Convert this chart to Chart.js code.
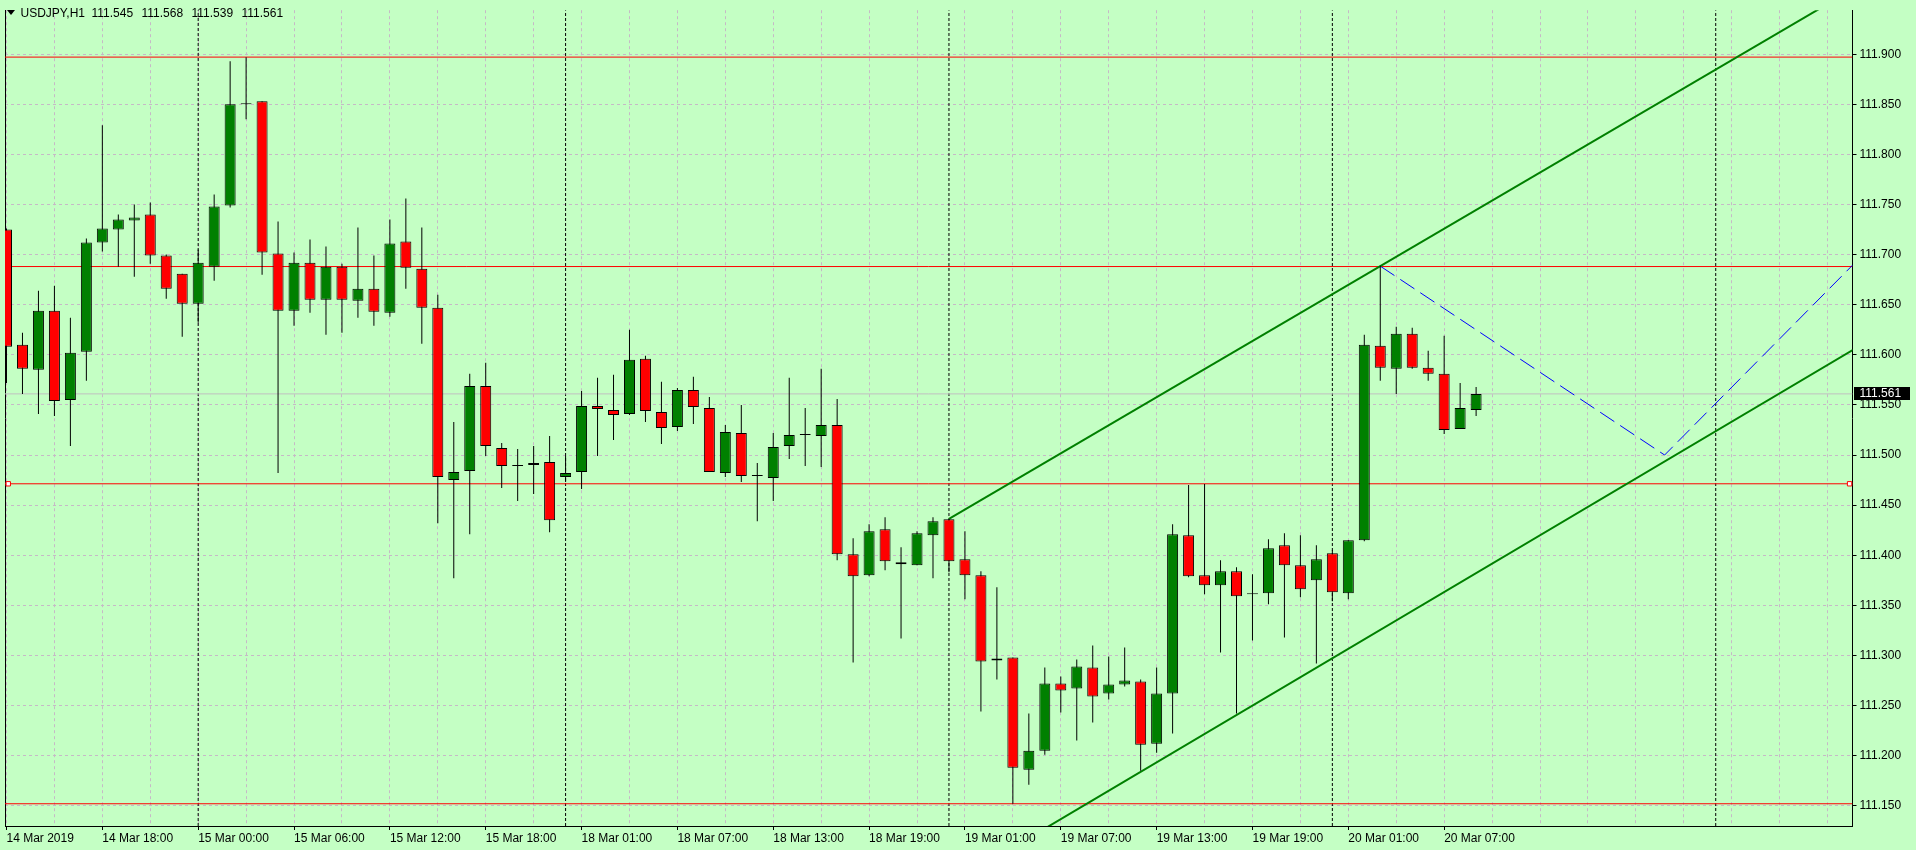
<!DOCTYPE html>
<html><head><meta charset="utf-8">
<script src="https://cdn.jsdelivr.net/npm/chart.js@4.4.0/dist/chart.umd.min.js"></script>
<style>
html,body{margin:0;padding:0;background:#c4ffc4;overflow:hidden;}
#wrap{position:relative;width:1916px;height:850px;background:#c4ffc4;}
#c{position:absolute;left:0;top:0;}
#hdr{position:absolute;left:0;top:0;width:400px;height:24px;font:12px "Liberation Sans",Arial,sans-serif;color:#000;}
#hdr span{position:absolute;top:6px;line-height:14px;white-space:pre;}
#tri{position:absolute;left:7px;top:10px;width:0;height:0;border-left:4px solid transparent;border-right:4px solid transparent;border-top:5px solid #000;}
</style></head><body>
<div id="wrap"><canvas id="c" width="1916" height="850"></canvas><div id="hdr"><div id="tri"></div></div></div>
<script>
// ---- data (USDJPY, H1) ----
const symbolName = 'USDJPY,H1';
const openP  = [111.725,111.610,111.585,111.644,111.555,111.603,111.712,111.725,111.734,111.740,
                111.699,111.681,111.651,111.688,111.749,111.850,111.853,111.701,111.644,111.692,
                111.655,111.688,111.654,111.666,111.642,111.713,111.686,111.647,111.475,111.484,
                111.569,111.507,111.490,111.490,111.493,111.478,111.483,111.549,111.545,111.541,
                111.596,111.543,111.528,111.565,111.547,111.482,111.522,111.479,111.477,111.509,
                111.520,111.519,111.530,111.401,111.380,111.426,111.393,111.390,111.420,111.436,
                111.396,111.380,111.295,111.298,111.186,111.205,111.272,111.267,111.288,111.262,
                111.271,111.274,111.212,111.262,111.420,111.380,111.370,111.384,111.361,111.362,
                111.410,111.390,111.375,111.402,111.362,111.415,111.609,111.586,111.621,111.587,
                111.581,111.526,111.545];
const highP  = [111.726,111.622,111.664,111.669,111.637,111.716,111.829,111.740,111.750,111.752,
                111.700,111.681,111.705,111.760,111.893,111.897,111.853,111.733,111.702,111.715,
                111.708,111.691,111.727,111.699,111.735,111.756,111.727,111.660,111.533,111.581,
                111.592,111.512,111.506,111.509,111.519,111.499,111.564,111.577,111.580,111.625,
                111.599,111.573,111.567,111.578,111.558,111.530,111.550,111.492,111.522,111.577,
                111.547,111.586,111.556,111.417,111.431,111.438,111.408,111.424,111.438,111.436,
                111.424,111.384,111.368,111.298,111.242,111.288,111.279,111.296,111.310,111.299,
                111.308,111.276,111.288,111.431,111.470,111.471,111.395,111.388,111.381,111.416,
                111.422,111.420,111.410,111.405,111.415,111.620,111.689,111.628,111.627,111.604,
                111.619,111.572,111.568];
const lowP   = [111.572,111.561,111.541,111.539,111.509,111.574,111.703,111.688,111.678,111.691,
                111.656,111.618,111.632,111.674,111.747,111.835,111.680,111.482,111.629,111.642,
                111.620,111.622,111.637,111.629,111.638,111.666,111.611,111.432,111.377,111.421,
                111.499,111.467,111.454,111.461,111.423,111.473,111.466,111.499,111.515,111.540,
                111.533,111.511,111.524,111.531,111.483,111.478,111.473,111.434,111.454,111.496,
                111.489,111.488,111.395,111.293,111.379,111.385,111.317,111.390,111.377,111.383,
                111.356,111.244,111.276,111.152,111.171,111.201,111.243,111.215,111.233,111.256,
                111.269,111.185,111.203,111.222,111.378,111.361,111.303,111.242,111.315,111.351,
                111.318,111.358,111.292,111.354,111.356,111.414,111.574,111.561,111.586,111.574,
                111.521,111.526,111.539];
const closeP = [111.608,111.586,111.644,111.554,111.602,111.712,111.726,111.735,111.737,111.699,
                111.666,111.651,111.692,111.748,111.850,111.850,111.702,111.644,111.692,111.655,
                111.688,111.655,111.666,111.643,111.711,111.687,111.647,111.478,111.483,111.569,
                111.509,111.489,111.489,111.492,111.435,111.482,111.549,111.546,111.540,111.595,
                111.544,111.527,111.565,111.548,111.483,111.523,111.479,111.479,111.508,111.520,
                111.520,111.530,111.401,111.379,111.424,111.394,111.391,111.422,111.434,111.394,
                111.380,111.294,111.297,111.188,111.205,111.272,111.265,111.289,111.259,111.271,
                111.275,111.211,111.262,111.421,111.379,111.370,111.384,111.359,111.361,111.407,
                111.390,111.366,111.396,111.363,111.415,111.610,111.587,111.621,111.587,111.581,
                111.525,111.547,111.561];
const timeLabels = ['14 Mar 2019','14 Mar 18:00','15 Mar 00:00','15 Mar 06:00','15 Mar 12:00','15 Mar 18:00',
                    '18 Mar 01:00','18 Mar 07:00','18 Mar 13:00','18 Mar 19:00','19 Mar 01:00','19 Mar 07:00',
                    '19 Mar 13:00','19 Mar 19:00','20 Mar 01:00','20 Mar 07:00'];
const priceTicks = [111.15,111.20,111.25,111.30,111.35,111.40,111.45,111.50,111.55,111.60,111.65,111.70,111.75,111.80,111.85,111.90];
const daySeparators = [12, 35, 59, 83, 107];          // bar index of each day start
const horizontalLevels = [111.8971, 111.6881, 111.4713, 111.1520];
const selectedLevel = 111.4713;
const selectedHandles = [0.11, 115.38];
const upperChannel = [[59, 111.4363], [115.6, 111.965]];
const lowerChannel = [[60, 111.080], [115.6, 111.605]];
const bluePath = [[86, 111.6885], [103.8, 111.500], [115.6, 111.690]];

// ---- view window ----
const X_MIN = -0.09375, X_MAX = 115.5625;
const Y_MIN = 111.1298, Y_MAX = 111.9439;
const FONT = '"Liberation Sans", Arial, sans-serif';
const GRID = '#c6b9c6';
const BULL = '#008000', BEAR = '#ff0000';

const idx = openP.map((_, i) => i);
const gridIdx = []; for (let v = 0; v <= 114; v += 3) gridIdx.push(v);
const labelFor = v => (Number.isInteger(v) && v % 6 === 0 && v / 6 < timeLabels.length) ? timeLabels[v / 6] : '';

const pts = arr => arr.map(p => ({x: p[0], y: p[1]}));
const lineDs = (data, color, width, dash, order) => ({
  type: 'line', data, borderColor: color, borderWidth: width, borderDash: dash || [],
  pointRadius: 0, fill: false, tension: 0, order, clip: 0
});

const datasets = [];
daySeparators.forEach(s => datasets.push(lineDs([{x: s, y: Y_MIN}, {x: s, y: Y_MAX}], '#000', 1, [3, 2], 30)));
datasets.push(lineDs([{x: X_MIN, y: closeP[closeP.length - 1]}, {x: X_MAX, y: closeP[closeP.length - 1]}], '#c0c0c0', 1, [], 29));
horizontalLevels.forEach(v => datasets.push(lineDs([{x: X_MIN, y: v}, {x: X_MAX, y: v}], BEAR, 1, [], 28)));
datasets.push(lineDs(pts(upperChannel), BULL, 2, [], 27));
datasets.push(lineDs(pts(lowerChannel), BULL, 2, [], 27));
datasets.push(lineDs(pts(bluePath), '#0000ff', 1, [17, 7], 27));
datasets.push({
  type: 'bar', data: idx.map(i => ({x: i, y: [lowP[i], highP[i]]})),
  backgroundColor: '#000', borderWidth: 0, barThickness: 1, grouped: false, inflateAmount: 0, order: 2
});
datasets.push({
  type: 'bar', data: idx.map(i => ({x: i, y: [openP[i], closeP[i]]})),
  backgroundColor: idx.map(i => closeP[i] >= openP[i] ? BULL : BEAR),
  borderColor: '#000', borderWidth: 1, borderSkipped: false, barThickness: 11,
  minBarLength: 1, grouped: false, inflateAmount: 0, order: 1
});
datasets.push({
  type: 'line', data: selectedHandles.map(x => ({x, y: selectedLevel})), showLine: false,
  pointStyle: 'rect', pointRadius: 3.1, pointBackgroundColor: '#fff', pointBorderColor: BEAR,
  pointBorderWidth: 1, order: 0, clip: false
});

const lastPriceLabel = {
  id: 'lastPriceLabel',
  afterDraw(chart) {
    const y = chart.scales.y, c = chart.ctx;
    const v = closeP[closeP.length - 1];
    const py = Math.round(y.getPixelForValue(v));
    c.save();
    c.fillStyle = '#000';
    c.fillRect(y.left + 1.5, py - 7, 56, 13);
    c.fillStyle = '#fff';
    c.font = '12px ' + FONT;
    c.textBaseline = 'middle';
    c.fillText(v.toFixed(3), y.left + 7, py);
    c.restore();
  }
};

new Chart(document.getElementById('c'), {
  type: 'bar',
  data: {datasets},
  plugins: [lastPriceLabel],
  options: {
    responsive: false, animation: false, events: [],
    layout: {padding: 0},
    plugins: {legend: {display: false}, tooltip: {enabled: false}, title: {display: false}},
    scales: {
      x: {
        type: 'linear', position: 'bottom', min: X_MIN, max: X_MAX, offset: false,
        afterFit: s => { s.height = 24; },
        afterBuildTicks: s => { s.ticks = gridIdx.map(v => ({value: v})); },
        grid: {color: GRID, lineWidth: 1, offset: false, tickLength: 4,
               tickColor: ctx => (ctx.tick && labelFor(ctx.tick.value)) ? '#000' : 'rgba(0,0,0,0)'},
        border: {display: true, color: '#000', width: 1, dash: [3, 3]},
        ticks: {autoSkip: false, maxRotation: 0, minRotation: 0, align: 'start', padding: 1,
                color: '#000', font: {family: FONT, size: 12}, callback: v => labelFor(v)}
      },
      y: {
        type: 'linear', position: 'right', min: Y_MIN, max: Y_MAX,
        afterFit: s => { s.width = 63.5; },
        afterBuildTicks: s => { s.ticks = priceTicks.map(v => ({value: v})); },
        grid: {color: GRID, lineWidth: 1, tickLength: 4, tickColor: '#000'},
        border: {display: true, color: '#000', width: 1, dash: [3, 3]},
        ticks: {padding: 3, color: '#000', font: {family: FONT, size: 12}, callback: v => v.toFixed(3)}
      },
      yl: {
        type: 'linear', position: 'left', min: Y_MIN, max: Y_MAX,
        afterFit: s => { s.width = 2; },
        grid: {display: false, drawOnChartArea: false, drawTicks: false},
        border: {display: true, color: '#000', width: 1},
        ticks: {display: false}
      }
    }
  }
});

// header: symbol + last bar OHLC
const hdr = document.getElementById('hdr');
const last = openP.length - 1;
const hdrItems = [[symbolName, 20.5], [openP[last].toFixed(3), 91.5], [highP[last].toFixed(3), 141.5],
                  [lowP[last].toFixed(3), 191.5], [closeP[last].toFixed(3), 241.5]];
hdrItems.forEach(([t, x]) => { const s = document.createElement('span'); s.textContent = t; s.style.left = x + 'px'; hdr.appendChild(s); });
</script>
</body></html>
